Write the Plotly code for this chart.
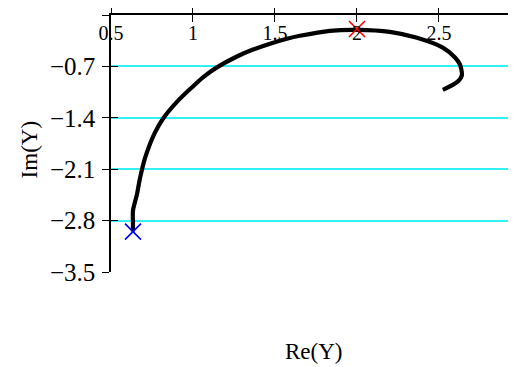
import plotly.graph_objects as go

# Curve Y traced in the complex plane
re_y = [0.634, 0.634, 0.634, 0.659, 0.677, 0.707, 0.732, 0.768, 0.817, 0.902,
        0.982, 1.061, 1.146, 1.268, 1.366, 1.470, 1.573, 1.652, 1.835, 2.000,
        2.201, 2.366, 2.524, 2.598, 2.628, 2.640, 2.610, 2.524]
im_y = [-2.95, -2.84, -2.665, -2.436, -2.221, -1.952, -1.790, -1.602, -1.413, -1.184,
        -1.009, -0.848, -0.713, -0.565, -0.471, -0.390, -0.323, -0.283, -0.215, -0.202,
        -0.229, -0.31, -0.444, -0.579, -0.673, -0.82, -0.915, -1.02]

start_re, start_im = [0.634], [-2.95]
mark_re, mark_im = [2.0], [-0.19]

x_ticks = [0.5, 1, 1.5, 2, 2.5]
x_labels = ["0.5", "1", "1.5", "2", "2.5"]
y_ticks = [0, -0.7, -1.4, -2.1, -2.8, -3.5]
y_labels = ["", "\u22120.7", "\u22121.4", "\u22122.1", "\u22122.8", "\u22123.5"]

FONT = "Liberation Serif"
CYAN = "#33F0F5"

fig = go.Figure()
fig.add_trace(go.Scatter(x=re_y, y=im_y, mode="lines",
                         line=dict(color="black", width=4.2, shape="spline", smoothing=0.7),
                         showlegend=False, hoverinfo="skip"))
fig.add_trace(go.Scatter(x=start_re, y=start_im, mode="markers",
                         marker=dict(symbol="x-thin", size=16, line=dict(color="blue", width=1.6)),
                         showlegend=False))
fig.add_trace(go.Scatter(x=mark_re, y=mark_im, mode="markers",
                         marker=dict(symbol="x-thin", size=16, line=dict(color="red", width=1.6)),
                         showlegend=False))
# invisible trace to anchor the overlay axes (used for crossing ticks)
fig.add_trace(go.Scatter(x=[None], y=[None], xaxis="x2", yaxis="y2",
                         mode="markers", showlegend=False, hoverinfo="skip"))

xr = [0.5, 2.97]
yr = [-3.5, 0]

fig.update_layout(
    width=508, height=359,
    margin=dict(l=103, r=0, t=4, b=95),
    paper_bgcolor="white", plot_bgcolor="white",
    font=dict(family=FONT, size=21, color="black"),
    xaxis=dict(range=xr, side="top", showline=True, linecolor="black", linewidth=1.5,
               ticks="outside", ticklen=7, tickwidth=1.2, tickcolor="black",
               tickvals=x_ticks, ticktext=x_labels,
               tickfont=dict(family=FONT, size=20, color="black"),
               ticklabelposition="inside", ticklabeloverflow="allow", ticklabelstandoff=12,
               showgrid=False, zeroline=False, fixedrange=True),
    xaxis2=dict(range=xr, side="top", overlaying="x", anchor="y",
                ticks="inside", ticklen=7, tickwidth=1.2, tickcolor="black",
                tickvals=x_ticks, showticklabels=False,
                showline=False, showgrid=False, zeroline=False, fixedrange=True),
    yaxis=dict(range=yr, showline=True, linecolor="black", linewidth=1.5,
               ticks="outside", ticklen=7, tickwidth=1.2, tickcolor="black",
               tickvals=y_ticks, ticktext=y_labels,
               tickfont=dict(family=FONT, size=25, color="black"),
               ticklabelstandoff=2,
               showgrid=True, gridcolor=CYAN, gridwidth=1.6,
               zeroline=False, fixedrange=True),
    yaxis2=dict(range=yr, overlaying="y", anchor="x",
                ticks="inside", ticklen=7, tickwidth=1.2, tickcolor="black",
                tickvals=y_ticks, showticklabels=False,
                showline=False, showgrid=False, zeroline=False, fixedrange=True),
    annotations=[
        dict(text="Re(Y)", xref="paper", yref="paper", x=0.5, y=-0.308,
             xanchor="center", yanchor="middle", showarrow=False,
             font=dict(family=FONT, size=23)),
        dict(text="Im(Y)", xref="paper", yref="paper", x=-0.2025, y=0.477,
             xanchor="center", yanchor="middle", showarrow=False, textangle=-90,
             font=dict(family=FONT, size=23)),
    ],
)

fig.write_html("out.html")
